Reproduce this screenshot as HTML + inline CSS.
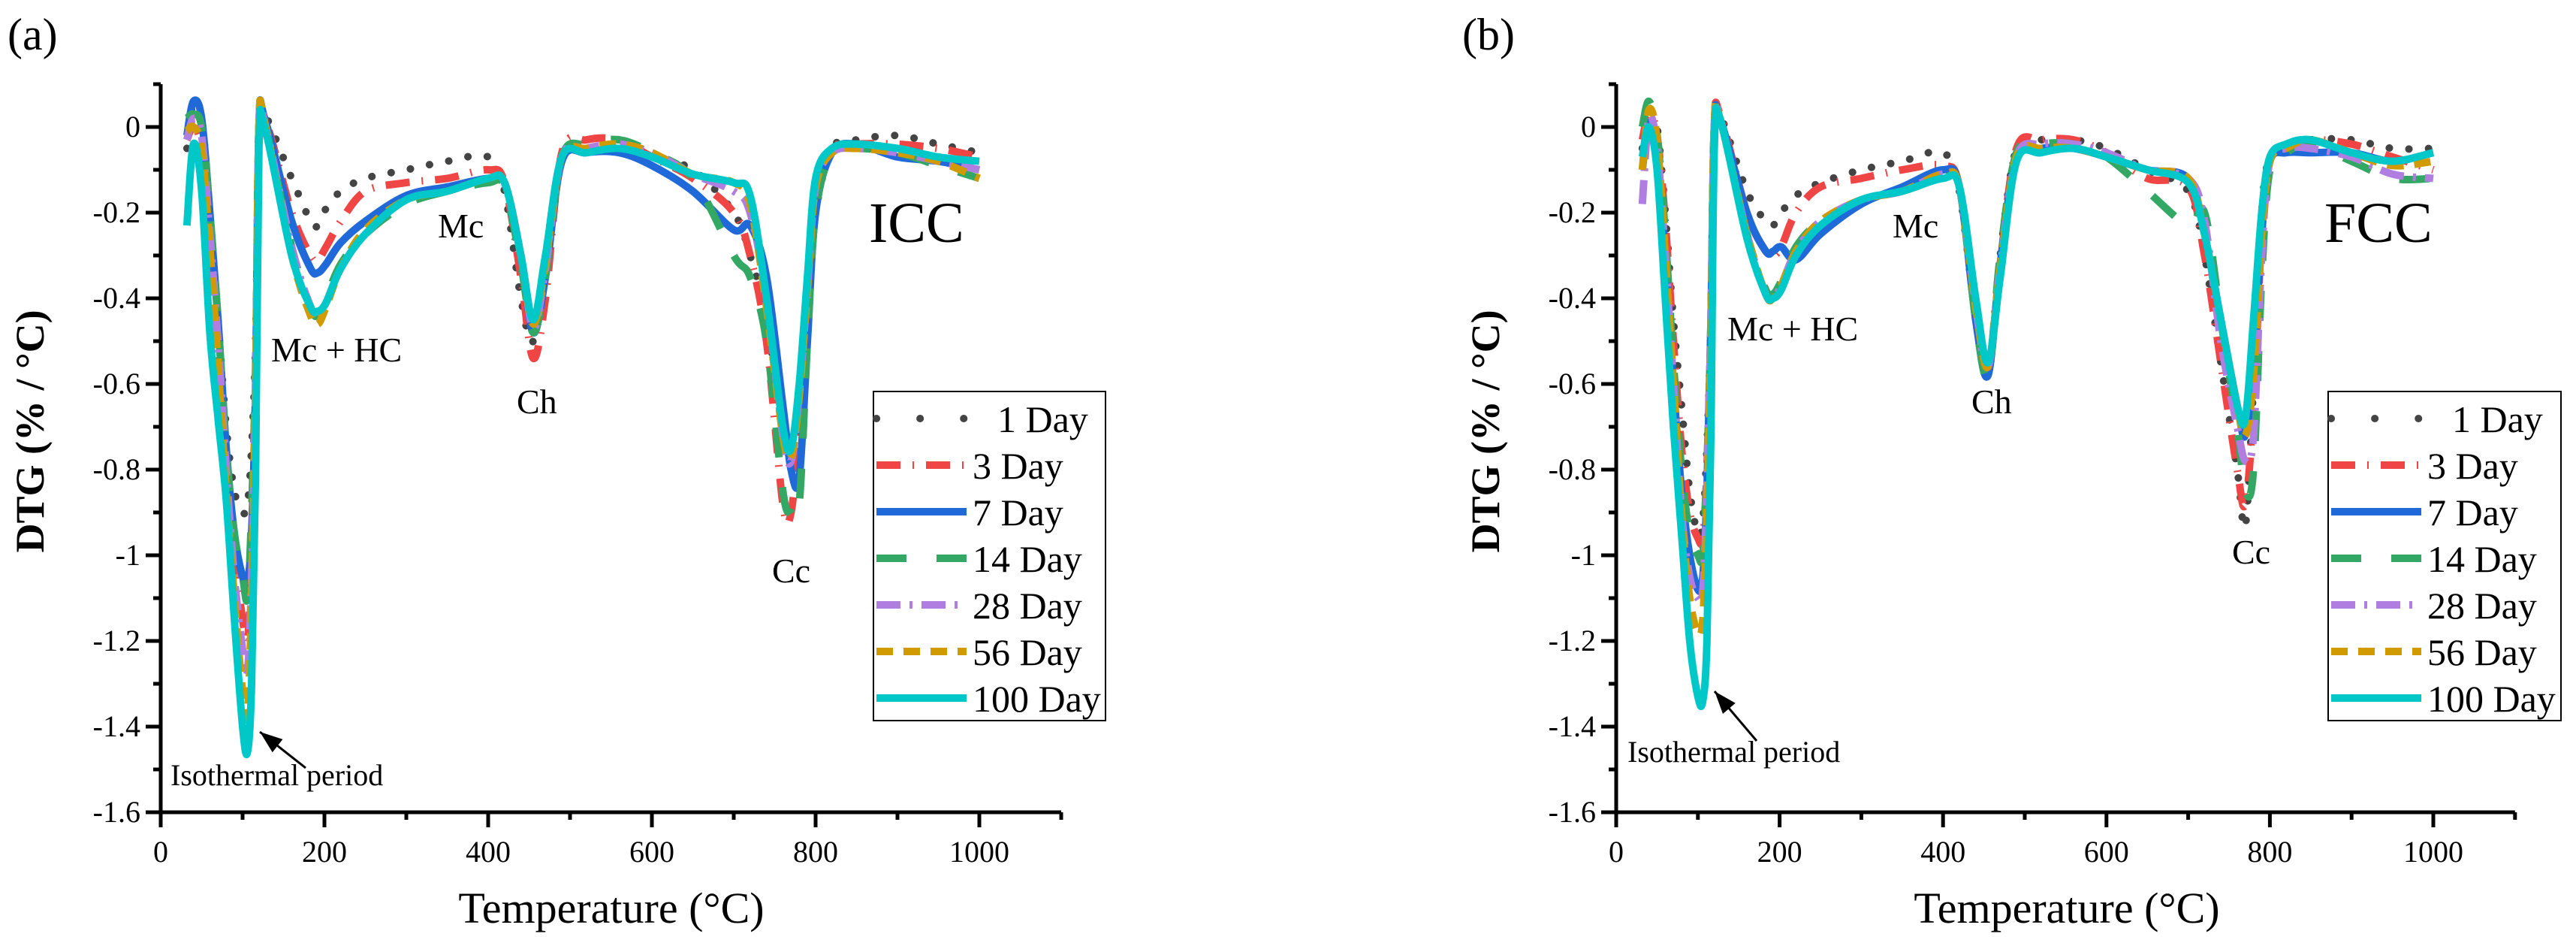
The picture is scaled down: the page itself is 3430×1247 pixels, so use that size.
<!DOCTYPE html>
<html><head><meta charset="utf-8"><style>
html,body{margin:0;padding:0;background:#fff;}
svg{display:block;}
svg text{font-family:"Liberation Serif","Times New Roman",serif;}
</style></head><body>
<svg id="chart" width="3430" height="1247" viewBox="0 0 3430 1247" xmlns="http://www.w3.org/2000/svg" font-family="Liberation Serif, serif"></svg>
<script>
const temps = [32,40,50,60,70,80,90,100,106,111,116,120,127,160,183,192,202,220,250,300,350,400,420,440,455,470,490,520,560,600,650,700,720,740,760,770,780,790,800,820,850,900,950,1000];
const seriesNames = ["1 Day","3 Day","7 Day","14 Day","28 Day","56 Day","100 Day"];
const xTicks = [0,200,400,600,800,1000];
const yTicks = [0,-0.2,-0.4,-0.6,-0.8,-1,-1.2,-1.4,-1.6];
const yTickLabels = ["0","-0.2","-0.4","-0.6","-0.8","-1","-1.2","-1.4","-1.6"];

const aDay1 = [-0.05,0.06,0.02,-0.2,-0.45,-0.7,-0.85,-0.9,-0.88,-0.75,-0.5,0.0,0.03,-0.12,-0.22,-0.23,-0.19,-0.15,-0.12,-0.1,-0.08,-0.07,-0.15,-0.4,-0.5,-0.3,-0.08,-0.05,-0.05,-0.07,-0.1,-0.2,-0.3,-0.45,-0.7,-0.75,-0.65,-0.4,-0.2,-0.05,-0.03,-0.02,-0.04,-0.06];
const aDay3 = [-0.03,0.0,-0.05,-0.25,-0.5,-0.8,-1.0,-1.15,-1.2,-1.0,-0.6,-0.05,0.02,-0.2,-0.3,-0.31,-0.28,-0.22,-0.15,-0.13,-0.12,-0.1,-0.13,-0.35,-0.54,-0.4,-0.06,-0.03,-0.03,-0.07,-0.12,-0.2,-0.3,-0.5,-0.88,-0.9,-0.7,-0.4,-0.15,-0.05,-0.04,-0.04,-0.05,-0.07];
const aDay7 = [-0.02,0.06,0.02,-0.2,-0.45,-0.75,-0.95,-1.05,-1.06,-0.95,-0.6,0.0,0.02,-0.22,-0.33,-0.34,-0.32,-0.27,-0.22,-0.16,-0.14,-0.12,-0.13,-0.3,-0.48,-0.35,-0.08,-0.06,-0.06,-0.09,-0.15,-0.24,-0.23,-0.35,-0.65,-0.8,-0.82,-0.5,-0.2,-0.06,-0.04,-0.07,-0.08,-0.1];
const aDay14 = [0.02,0.03,0.0,-0.2,-0.45,-0.75,-0.95,-1.05,-1.1,-0.9,-0.55,0.0,0.01,-0.28,-0.42,-0.44,-0.4,-0.32,-0.25,-0.18,-0.15,-0.13,-0.14,-0.32,-0.48,-0.35,-0.07,-0.04,-0.03,-0.06,-0.12,-0.3,-0.35,-0.5,-0.85,-0.9,-0.88,-0.5,-0.2,-0.06,-0.05,-0.06,-0.09,-0.12];
const aDay28 = [-0.03,0.02,-0.02,-0.25,-0.5,-0.8,-1.05,-1.22,-1.27,-1.05,-0.6,0.0,0.01,-0.28,-0.42,-0.44,-0.41,-0.33,-0.25,-0.17,-0.15,-0.12,-0.13,-0.3,-0.47,-0.33,-0.07,-0.05,-0.04,-0.06,-0.11,-0.15,-0.2,-0.4,-0.72,-0.78,-0.62,-0.38,-0.14,-0.06,-0.05,-0.06,-0.08,-0.1];
const aDay56 = [-0.01,0.0,-0.05,-0.28,-0.55,-0.85,-1.1,-1.32,-1.37,-1.1,-0.6,0.0,0.01,-0.3,-0.44,-0.46,-0.42,-0.33,-0.24,-0.17,-0.15,-0.12,-0.13,-0.3,-0.46,-0.32,-0.07,-0.05,-0.04,-0.06,-0.11,-0.13,-0.18,-0.42,-0.72,-0.77,-0.63,-0.38,-0.14,-0.06,-0.05,-0.06,-0.08,-0.12];
const aDay100 = [-0.23,-0.04,-0.15,-0.48,-0.68,-0.87,-1.15,-1.4,-1.46,-1.3,-0.8,-0.05,0.0,-0.3,-0.42,-0.43,-0.41,-0.33,-0.25,-0.17,-0.15,-0.12,-0.13,-0.3,-0.45,-0.3,-0.07,-0.06,-0.05,-0.07,-0.11,-0.13,-0.16,-0.4,-0.7,-0.75,-0.6,-0.35,-0.12,-0.05,-0.04,-0.05,-0.07,-0.08];

const bDay1 = [-0.05,0.03,0.0,-0.2,-0.45,-0.65,-0.85,-0.95,-0.92,-0.75,-0.45,0.0,0.03,-0.15,-0.22,-0.23,-0.2,-0.16,-0.13,-0.1,-0.08,-0.06,-0.15,-0.45,-0.58,-0.3,-0.05,-0.03,-0.03,-0.05,-0.1,-0.15,-0.3,-0.55,-0.8,-0.93,-0.6,-0.2,-0.07,-0.05,-0.03,-0.03,-0.05,-0.05];
const bDay3 = [-0.03,0.03,-0.02,-0.22,-0.5,-0.75,-0.9,-0.96,-0.96,-0.8,-0.45,0.0,0.03,-0.2,-0.29,-0.3,-0.28,-0.2,-0.14,-0.12,-0.1,-0.09,-0.14,-0.45,-0.58,-0.32,-0.05,-0.03,-0.03,-0.06,-0.12,-0.14,-0.3,-0.55,-0.8,-0.88,-0.65,-0.25,-0.08,-0.05,-0.03,-0.04,-0.07,-0.1];
const bDay7 = [-0.1,0.01,-0.05,-0.3,-0.6,-0.85,-1.0,-1.08,-1.05,-0.85,-0.45,0.0,0.02,-0.2,-0.29,-0.29,-0.28,-0.31,-0.25,-0.18,-0.14,-0.1,-0.14,-0.45,-0.58,-0.32,-0.07,-0.05,-0.05,-0.07,-0.1,-0.12,-0.25,-0.45,-0.65,-0.72,-0.55,-0.25,-0.08,-0.06,-0.06,-0.06,-0.08,-0.06];
const bDay14 = [0.0,0.06,-0.02,-0.25,-0.55,-0.8,-0.95,-1.0,-1.0,-0.8,-0.45,0.0,0.02,-0.25,-0.38,-0.39,-0.36,-0.28,-0.22,-0.17,-0.15,-0.12,-0.14,-0.45,-0.58,-0.3,-0.06,-0.04,-0.04,-0.07,-0.15,-0.23,-0.2,-0.45,-0.7,-0.85,-0.8,-0.35,-0.1,-0.06,-0.04,-0.08,-0.12,-0.12];
const bDay28 = [-0.18,0.02,-0.05,-0.3,-0.6,-0.9,-1.05,-1.1,-1.08,-0.85,-0.45,0.0,0.02,-0.25,-0.39,-0.4,-0.37,-0.29,-0.22,-0.17,-0.15,-0.11,-0.14,-0.42,-0.56,-0.33,-0.07,-0.04,-0.04,-0.06,-0.1,-0.12,-0.22,-0.5,-0.7,-0.78,-0.72,-0.3,-0.08,-0.05,-0.05,-0.07,-0.11,-0.12];
const bDay56 = [-0.1,0.04,-0.03,-0.3,-0.6,-0.9,-1.1,-1.18,-1.15,-0.9,-0.5,0.0,0.02,-0.25,-0.39,-0.4,-0.37,-0.29,-0.22,-0.17,-0.15,-0.11,-0.14,-0.42,-0.56,-0.33,-0.07,-0.05,-0.05,-0.07,-0.1,-0.12,-0.25,-0.45,-0.65,-0.72,-0.58,-0.25,-0.08,-0.05,-0.03,-0.06,-0.09,-0.08];
const bDay100 = [-0.07,0.0,-0.1,-0.4,-0.7,-0.95,-1.2,-1.33,-1.34,-1.2,-0.7,-0.05,0.02,-0.26,-0.39,-0.4,-0.38,-0.3,-0.23,-0.17,-0.15,-0.12,-0.14,-0.4,-0.55,-0.35,-0.08,-0.06,-0.05,-0.07,-0.1,-0.13,-0.25,-0.45,-0.65,-0.68,-0.45,-0.2,-0.07,-0.04,-0.03,-0.06,-0.08,-0.06];

const colors = ["#444444","#f04545","#1f6ad8","#33a864","#b07ee0","#d09a00","#00c8c8"];
const dashes = ["0.1 26","32 16 2 16","","40 40","32 12 4 12","22 14",""];
const SERIF = "Liberation Serif, Times New Roman, serif";
const NS = "http://www.w3.org/2000/svg";
const svg = document.getElementById("chart");

function mk(tag, attrs, parent){
  const e = document.createElementNS(NS, tag);
  for (const k in attrs) e.setAttribute(k, attrs[k]);
  if (tag === "text") e.setAttribute("font-family", SERIF);
  (parent||svg).appendChild(e);
  return e;
}
function smoothPath(pts){
  let d = "M"+pts[0][0].toFixed(1)+","+pts[0][1].toFixed(1);
  for (let i=0;i<pts.length-1;i++){
    const p0=pts[Math.max(0,i-1)], p1=pts[i], p2=pts[i+1], p3=pts[Math.min(pts.length-1,i+2)];
    const c1=[p1[0]+(p2[0]-p0[0])/6, p1[1]+(p2[1]-p0[1])/6];
    const c2=[p2[0]-(p3[0]-p1[0])/6, p2[1]-(p3[1]-p1[1])/6];
    d += " C"+c1[0].toFixed(1)+","+c1[1].toFixed(1)+" "+c2[0].toFixed(1)+","+c2[1].toFixed(1)+" "+p2[0].toFixed(1)+","+p2[1].toFixed(1);
  }
  return d;
}

function drawPanel(cfg, seriesList){
  const g = mk("g", {});
  
  
  const xs = v => cfg.x0 + v*cfg.kx;
  const ys = v => cfg.y0 - v*cfg.ky;
  const sg = mk("g", {}, g);
  
  
  seriesList.forEach((vals, si) => {
    const pts = temps.map((t,i)=>[xs(t), ys(vals[i])]);
    const p = mk("path", {d: smoothPath(pts), fill:"none", stroke:colors[si], "stroke-width":10, "stroke-linecap": si===0?"round":"butt", "stroke-linejoin":"round"}, sg);
    if (dashes[si]) p.setAttribute("stroke-dasharray", dashes[si]);
    
    
  });
  const ax = mk("g", {stroke:"#000","stroke-width":5}, g);
  
  
  mk("line",{x1:cfg.x0,y1:ys(0.1),x2:cfg.x0,y2:ys(-1.6)+2.5},ax);
  mk("line",{x1:cfg.x0-2.5,y1:ys(-1.6),x2:xs(1100),y2:ys(-1.6)},ax);
  for (let v=0; v<=1100; v+=100){
    const major = v%200===0;
    mk("line",{x1:xs(v),y1:ys(-1.6),x2:xs(v),y2:ys(-1.6)+(major?20:10)},ax);
  }
  for (let k=1; k>=-16; k--){
    const v=k/10, major = k%2===0;
    mk("line",{x1:cfg.x0,y1:ys(v),x2:cfg.x0-(major?20:10),y2:ys(v)},ax);
  }
  xTicks.forEach(v=>{
    const t = mk("text",{x:xs(v),y:ys(-1.6)+66,"font-size":40,"text-anchor":"middle"},g);
    t.textContent = String(v);
    
    
  });
  yTicks.forEach((v,i)=>{
    const t = mk("text",{x:cfg.x0-27,y:ys(v)+13,"font-size":40,"text-anchor":"end"},g);
    t.textContent = yTickLabels[i];
    
    
  });
  const yt = mk("text",{x:0,y:0,"font-size":54,"font-weight":"bold","text-anchor":"middle",transform:"translate("+(cfg.x0-156)+",574) rotate(-90)"},g);
  yt.textContent = "DTG (% / °C)";
  
  
  const xt = mk("text",{x:cfg.x0+600,y:1228,"font-size":58,"text-anchor":"middle"},g);
  xt.textContent = "Temperature (°C)";
  
  
  const pl = mk("text",{x:cfg.labelX,y:66,"font-size":60},g);
  pl.textContent = cfg.label;
  
  
  cfg.notes.forEach(n=>{
    const t = mk("text",{x:n[1],y:n[2],"font-size":n[3]},g);
    t.textContent = n[0];
    
    
  });
  const ar = cfg.arrow;
  const al = mk("line",{x1:ar[0],y1:ar[1],x2:ar[2],y2:ar[3],stroke:"#000","stroke-width":3},g);
  
  
  const ang = Math.atan2(ar[3]-ar[1], ar[2]-ar[0]);
  const hx = ar[2], hy = ar[3], L=30, W=11;
  const bx = hx - L*Math.cos(ang), by = hy - L*Math.sin(ang);
  const ah = mk("polygon",{points: hx+","+hy+" "+(bx - W*Math.sin(ang))+","+(by + W*Math.cos(ang))+" "+(bx + W*Math.sin(ang))+","+(by - W*Math.cos(ang)), fill:"#000"},g);
  
  
  const lg = mk("g",{},g);
  
  
  mk("rect",{x:cfg.lx,y:521,width:cfg.lw,height:438,fill:"#fff",stroke:"#000","stroke-width":2},lg);
  seriesNames.forEach((nm,si)=>{
    const yy = 557 + si*62;
    const ln = mk("line",{x1:cfg.lx+4,y1:yy,x2:cfg.lx+124,y2:yy,stroke:colors[si],"stroke-width":10,"stroke-linecap":si===0?"round":"butt"},lg);
    if (dashes[si]) ln.setAttribute("stroke-dasharray", si===0?"0.1 58":dashes[si]);
    
    
    const t = mk("text",{x:cfg.lx+(si===0?165:132),y:yy+18,"font-size":50},lg);
    t.textContent = nm;
    
    
  });
}

drawPanel({id:"icc", x0:214, kx:1.09, y0:169, ky:570, label:"(a)", labelX:10, lx:1163, lw:309,
  notes:[["ICC",1157,322,76],["Mc",583,316,46],["Mc + HC",361,481,46],["Ch",688,550,46],["Cc",1028,775,46],["Isothermal period",227,1045,40]],
  arrow:[407,1022,346,974]},
  [aDay1,aDay3,aDay7,aDay14,aDay28,aDay56,aDay100]);
drawPanel({id:"fcc", x0:2152, kx:1.088, y0:169, ky:570, label:"(b)", labelX:1947, lx:3100, lw:310,
  notes:[["FCC",3095,322,76],["Mc",2520,316,46],["Mc + HC",2300,453,46],["Ch",2625,550,46],["Cc",2972,750,46],["Isothermal period",2167,1014,40]],
  arrow:[2339,986,2283,920]},
  [bDay1,bDay3,bDay7,bDay14,bDay28,bDay56,bDay100]);
</script>
</body></html>
